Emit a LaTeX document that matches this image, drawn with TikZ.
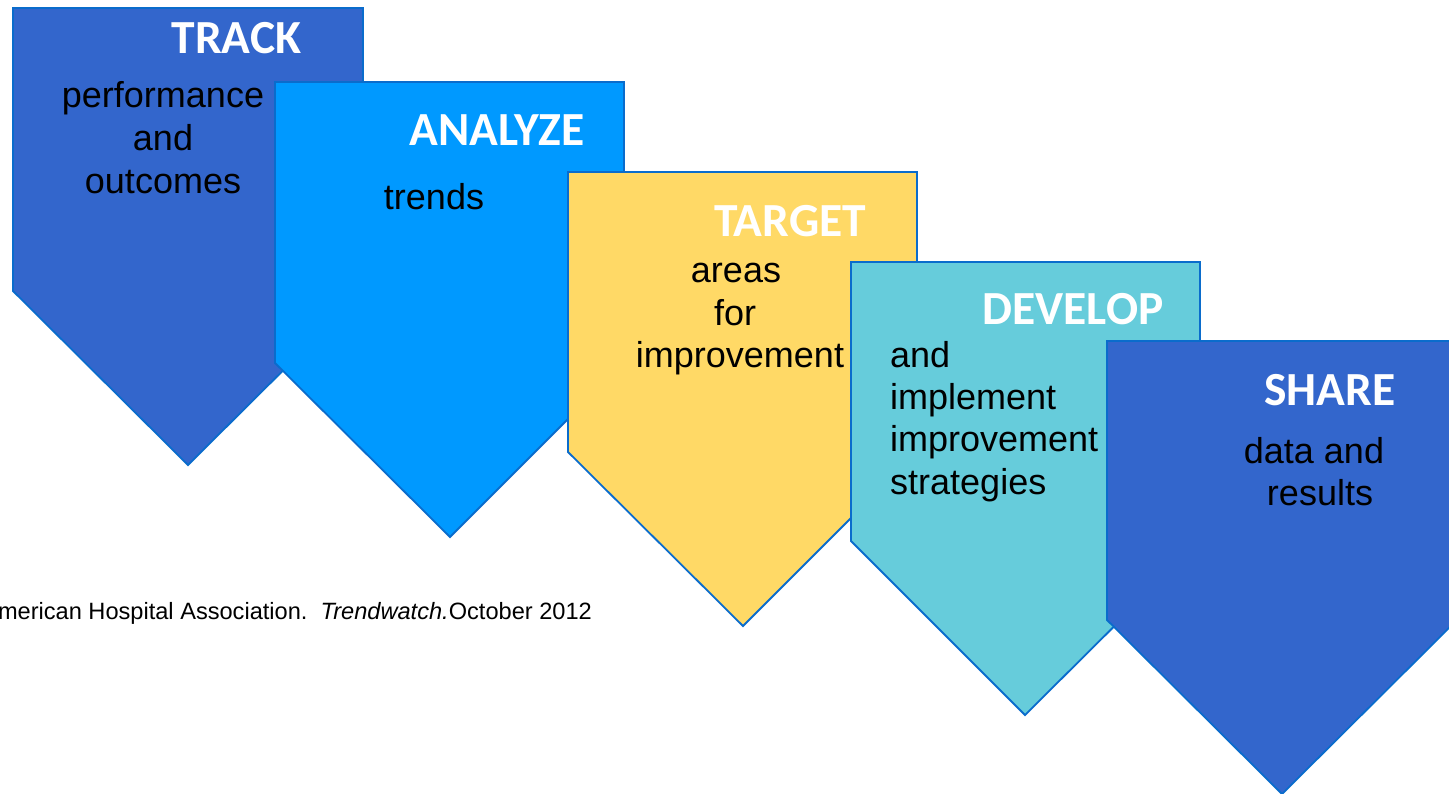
\documentclass[tikz,border=0pt]{standalone}
\usepackage{fontspec}
\setmainfont{Liberation Sans}
\newfontfamily\titlefont{Carlito}
\definecolor{trackblue}{HTML}{3366CC}
\definecolor{anblue}{HTML}{0099FF}
\definecolor{tgold}{HTML}{FFD966}
\definecolor{devcyan}{HTML}{66CCDB}
\definecolor{edgeblue}{HTML}{0A6CCC}
\tikzset{
  arrowshape/.style={draw=edgeblue, line width=1.8pt, line join=miter},
  titletext/.style={anchor=base, inner sep=0pt, text=white, font=\titlefont\bfseries\fontsize{47.5}{56}\selectfont},
  bodytext/.style={anchor=base, inner sep=0pt, text=black, font=\fontsize{36}{42}\selectfont},
  bodyleft/.style={bodytext, anchor=base west},
  foottext/.style={anchor=base east, inner sep=0pt, text=black, font=\fontsize{23.6}{28}\selectfont}
}
\begin{document}
\begin{tikzpicture}[x=1pt,y=-1pt]
\useasboundingbox[fill=white] (0,0) rectangle (1449,793);
% TRACK
\draw[arrowshape, fill=trackblue] (13,8) -- (363,8) -- (363,291) -- (188,465) -- (13,291) -- cycle;
\node[titletext] (trackT) at (236.5,53) {TRACK};
\node[bodytext] (track1) at (163,107) {performance};
\node[bodytext] (track2) at (163,150) {and};
\node[bodytext] (track3) at (163,193) {outcomes};
% ANALYZE
\draw[arrowshape, fill=anblue] (275,82) -- (624,82) -- (624,363) -- (450,537) -- (275,363) -- cycle;
\node[titletext] (anT) at (497,145) {ANALYZE};
\node[bodytext] (an1) at (434,209) {trends};
% TARGET
\draw[arrowshape, fill=tgold] (568,172) -- (917,172) -- (917,452) -- (743,626) -- (568,452) -- cycle;
\node[titletext] (tgT) at (790,236) {TARGET};
\node[bodytext] (tg1) at (736,282) {areas};
\node[bodytext] (tg2) at (735,325) {for};
\node[bodytext] (tg3) at (740,367) {improvement};
% DEVELOP
\draw[arrowshape, fill=devcyan] (851,262) -- (1200,262) -- (1200,541) -- (1025,715) -- (851,541) -- cycle;
\node[titletext] (devT) at (1073,324) {DEVELOP};
\node[bodyleft] (dev1) at (890,367) {and};
\node[bodyleft] (dev2) at (890,409) {implement};
\node[bodyleft] (dev3) at (890,451.5) {improvement};
\node[bodyleft] (dev4) at (890,494) {strategies};
% SHARE
\draw[arrowshape, fill=trackblue] (1107,341) -- (1457,341) -- (1457,620) -- (1282,794) -- (1107,620) -- cycle;
\node[titletext] (shT) at (1330,405) {SHARE};
\node[bodytext] (sh1) at (1314,463) {data and};
\node[bodytext] (sh2) at (1320,505) {results};
% footnote
\node[foottext] (foot) at (592,619) {\frenchspacing American Hospital Association.\ \ \textit{Trendwatch.}October 2012};
\end{tikzpicture}
\end{document}
